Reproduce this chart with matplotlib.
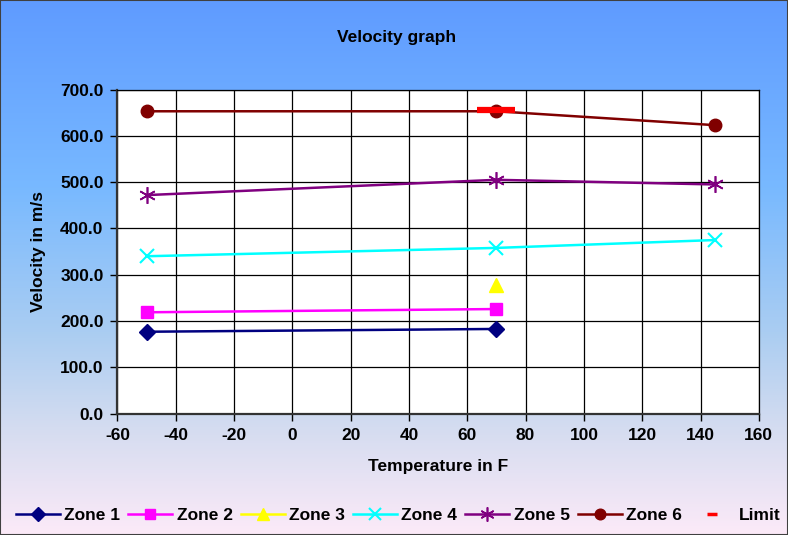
import numpy as np
import matplotlib
matplotlib.use("Agg")
import matplotlib.pyplot as plt
import matplotlib.ticker as mticker
from matplotlib.colors import LinearSegmentedColormap
from matplotlib.patches import Rectangle

plt.rcParams['font.family'] = ['Liberation Sans', 'DejaVu Sans']
plt.rcParams['font.weight'] = 'bold'
plt.rcParams['axes.labelweight'] = 'bold'
plt.rcParams['axes.unicode_minus'] = False

# --- DATA ---
temps_long = [-50, 70, 145]
temps_short = [-50, 70]
zone1 = [177, 183]
zone2 = [219, 226]
zone3_temp = [70]
zone3 = [278]
zone4 = [340, 358, 375]
zone5 = [472, 505, 495]
zone6 = [653, 653, 623]
limit_temp = [70]
limit = [656]

FS = 12.5

fig = plt.figure(figsize=(7.88, 5.35), dpi=100)

# background gradient behind everything
bg = fig.add_axes([0, 0, 1, 1], zorder=-10)
bg_cmap = LinearSegmentedColormap.from_list("bg", [
    (0.00, (95/255, 155/255, 255/255)),
    (0.35, (120/255, 185/255, 255/255)),
    (0.62, (170/255, 205/255, 242/255)),
    (0.80, (212/255, 220/255, 240/255)),
    (1.00, (252/255, 234/255, 248/255)),
])
bg.imshow(np.linspace(0, 1, 256).reshape(-1, 1), aspect='auto', cmap=bg_cmap,
          extent=[0, 1, 0, 1])
bg.axis('off')
fig.patches.append(Rectangle((0, 0), 1, 1, transform=fig.transFigure, fill=False,
                             edgecolor='#404040', linewidth=1.5, zorder=10))

ax = fig.add_axes([0.149, 0.2267, 0.814, 0.606])
ax.set_facecolor('white')

ax.plot(temps_short, zone1, color='#000080', lw=1.8, marker='D', ms=8, label='Zone 1')
ax.plot(temps_short, zone2, color='#FF00FF', lw=1.8, marker='s', ms=9, label='Zone 2')
ax.plot(zone3_temp, zone3, color='#FFFF00', lw=1.8, marker='^', ms=10, label='Zone 3')
ax.plot(temps_long, zone4, color='#00FFFF', lw=1.8, marker='x', ms=10, mew=1.5, label='Zone 4')
ax.plot(temps_long, zone5, color='#800080', lw=1.8, marker=(6, 2, 0), ms=12, mew=1.2, label='Zone 5')
ax.plot(temps_long, zone6, color='#800000', lw=1.8, marker='o', ms=9, label='Zone 6')
ax.plot(limit_temp, limit, color='#FF0000', ls='none', marker='_', ms=28, mew=4.5, label='Limit')

ax.set_xlim(-60, 160)
ax.set_ylim(0, 700)
ax.xaxis.set_major_locator(mticker.MultipleLocator(20))
ax.yaxis.set_major_locator(mticker.MultipleLocator(100))
ax.yaxis.set_major_formatter(mticker.FormatStrFormatter('%.1f'))
ax.grid(True, color='black', lw=0.9)
ax.set_axisbelow(True)
ax.tick_params(direction='out', length=5, width=1, labelsize=FS, pad=5)
for s in ['left', 'bottom']:
    ax.spines[s].set_color('#333333')
    ax.spines[s].set_linewidth(1.6)
for s in ['top', 'right']:
    ax.spines[s].set_color('black')
    ax.spines[s].set_linewidth(0.9)

ax.set_xlabel('Temperature in F', fontsize=FS, labelpad=12)
ax.set_ylabel('Velocity in m/s', fontsize=FS, labelpad=10)
fig.text(0.503, 0.93, 'Velocity graph', ha='center', va='center', fontsize=FS, fontweight='bold')

leg = fig.legend(loc='center', bbox_to_anchor=(0.505, 0.037), ncol=7, frameon=False,
                 fontsize=FS, handlelength=2.55, handletextpad=0.25, columnspacing=0.45,
                 markerscale=0.85)
leg.legend_handles[-1].set_markersize(7)
leg.legend_handles[-1].set_markeredgewidth(2.5)

plt.savefig('out.png', dpi=100)
